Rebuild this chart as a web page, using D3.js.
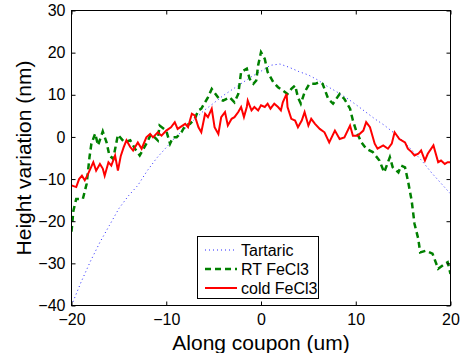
<!DOCTYPE html>
<html>
<head>
<meta charset="utf-8">
<script src="https://cdn.jsdelivr.net/npm/d3@7"></script>
<style>
  body { margin: 0; background: #fff; }
  svg { font-family: "Liberation Sans", Arial, sans-serif; }
</style>
</head>
<body>
<svg id="chart" width="461" height="353"></svg>
<script>
// Data

const xDomain = [-20, 20];
const yDomain = [-40, 30];
const xTicks = [-20, -10, 0, 10, 20];
const yTicks = [-40, -30, -20, -10, 0, 10, 20, 30];

const seriesNames = ["Tartaric", "RT FeCl3", "cold FeCl3"];

// Tartaric (smooth, blue dotted)
const tartaricX = [-20, -19, -18, -17, -16, -15, -14, -13, -12, -11, -10, -9, -8, -7, -6, -5, -4, -3, -2, -1,
  0, 1, 2, 3, 4, 5, 6, 7, 8, 9, 10, 11, 12, 13, 14, 15, 16, 17, 18, 19, 20];
const tartaricY = [-40, -34.5, -29.5, -25, -21, -17, -14, -11.5, -8, -5, -2.5, 0, 2, 4.2, 6.3, 8, 9.8, 11.3, 12.8, 14.3,
  15.6, 17, 17.3, 16.5, 15.5, 14.7, 13.5, 12, 10.7, 9.3, 7.7, 6, 4.3, 2.8, 1, -1, -3.3, -5.7, -8.5, -11, -13.5];

// RT FeCl3 (green dashed)
const rtX = [-20, -19.8, -19.5, -18.8, -18.4, -18.1, -17.9, -17.5, -17.2, -16.7, -16.3, -16, -15.6, -15.1, -14.4,
  -13.8, -13.3, -12.8, -12.1, -11.6, -10.9, -10.7, -10, -9.6, -9.3, -8.9, -8.4, -8, -7.5, -7, -6.6, -6.3, -5.6,
  -5.2, -4.4, -4, -3.3, -2.8, -2.4, -2.1, -1.5, -1.2, -0.8, -0.5, -0.3, 0, 0.4, 0.7, 1.3, 1.8, 2.3, 2.8, 3.2, 3.6,
  3.9, 4.2, 4.6, 5.1, 5.7, 6.2, 6.5, 7.1, 7.6, 8.3, 8.8, 9.4, 9.7, 10.1, 10.6, 11.1, 11.8, 12.5, 13, 13.4, 13.6,
  13.9, 14.5, 14.8, 15.2, 15.5, 15.9, 16.2, 16.6, 16.8, 17.4, 18.1, 18.7, 19.4, 19.7, 20];
const rtY = [-22.5, -17.5, -14.7, -14.7, -11.1, -4.8, -1.6, 0.8, -2, 1.3, -1.3, -4.4, -5.2, 0.5, -1.3,
  -0.8, -2.8, -4.4, -1.6, 0.7, -0.8, 2.7, 1.5, -1.6, -0.1, -0.1, 1.1, 2.7, 3.1, 4.3, 6.3, 6.7, 9.4,
  11.4, 9, 8.6, 9.4, 8.2, 10.2, 15.4, 16.2, 13.8, 12.6, 13.4, 17, 20.1, 18.5, 15.4, 13, 11.8, 11, 10.2, 11.4, 12.2,
  9.4, 7.9, 10.6, 12.6, 12.6, 13, 12.6, 9, 7.9, 10.2, 9, 6.7, 3.9, 1.1, -1.3, -2.8, -3.6, -5.6, -8.4, -6, -4.8,
  -7.2, -8.4, -6.8, -7.2, -10.3, -15.1, -20.6, -24.2, -27.4, -27, -27.7, -31.3, -30.1, -29.7, -32.5];

// cold FeCl3 (red solid)
const coldX = [-20, -19.5, -19.2, -18.9, -18.6, -18.3, -18, -17.7, -17.4, -17, -16.7, -16.5, -16.1, -15.8, -15.4,
  -15.1, -14.8, -14.5, -14.2, -13.8, -13.5, -13, -12.6, -12.1, -11.7, -11.4, -10.9, -10.5, -10, -9.5, -9.1, -8.8,
  -8.4, -8, -7.7, -7.3, -7, -6.6, -6.3, -5.9, -5.6, -5.2, -4.9, -4.5, -4.2, -3.8, -3.5, -3.1, -2.8, -2.4, -2.1,
  -1.8, -1.5, -1.4, -1, -0.7, -0.3, 0, 0.4, 0.7, 1, 1.4, 1.8, 2.1, 2.3, 2.7, 2.8, 3.2, 3.6, 3.9, 4.3, 4.6, 5, 5.3,
  5.7, 6.2, 6.7, 7.2, 7.8, 8.3, 8.8, 9.4, 9.7, 10.2, 10.8, 11.1, 11.5, 12, 12.3, 12.9, 13.4, 13.8, 14.1, 14.6,
  15.2, 15.5, 15.9, 16.2, 16.6, 16.9, 17.3, 17.6, 18.2, 18.7, 19, 19.4, 19.7, 20];
const coldY = [-11.5, -11.9, -10, -9.2, -10.3, -9, -7.5, -6, -8, -6.4, -7.5, -9.2, -6, -6.8, -4.4,
  -8, -4.5, -2.5, -0.8, -2.4, -3.2, -1.3, -2.8, -0.1, 0.7, -0.1, 1.1, 0.3, 1.5, 2.3, 3.5, 1.9,
  2.5, 3.1, 2.3, 5.5, 5.1, 2.3, 1.1, 5.5, 4.7, 6.7, 2.3, 0.7, 4.7, 5.9, 2.7, 4.3, 4.7, 5.9, 7.1,
  4.7, 7.1, 8.6, 6.3, 7.1, 6.3, 7.5, 7.1, 7.9, 6.7, 7.9, 7.1, 6.3, 8.2, 10.2, 7.1, 4.3, 3.9, 2.3, 3.9, 5.9, 2.7, 4.3,
  3.1, 1.9, 1.1, -1.3, 1.5, -0.5, -0.1, 2.7, 0.3, 0.3, 1.5, 3.5, 2.3, -1.6, -2.8, -2, -2.8, -1.6, 1.1, -0.5,
  -1.3, -2.8, -3.6, -4.4, -4, -3.2, -5.6, -4, -2, -6, -5.6, -6.4, -6, -6];

const svg = d3.select("#chart");

// plot box
const plotLeft = 71.5, plotRight = 450.5, plotTop = 10.5, plotBottom = 305.5;

const x = d3.scaleLinear().domain(xDomain).range([plotLeft, plotRight]);
const y = d3.scaleLinear().domain(yDomain).range([plotBottom, plotTop]);

const line = d3.line().x((d) => x(d[0])).y((d) => y(d[1]));

function pairs(xs, ys) {
  return xs.map((v, i) => [v, ys[i]]);
}

const series = [
  { name: seriesNames[0], data: pairs(tartaricX, tartaricY), color: "#2828ff", width: 1, dash: "1,3" },
  { name: seriesNames[1], data: pairs(rtX, rtY), color: "#008000", width: 2.5, dash: "6,4" },
  { name: seriesNames[2], data: pairs(coldX, coldY), color: "#ff0000", width: 2, dash: null },
];

// clip so lines stay inside the box
svg.append("clipPath").attr("id", "clip")
  .append("rect").attr("x", plotLeft).attr("y", plotTop)
  .attr("width", plotRight - plotLeft).attr("height", plotBottom - plotTop);

const plot = svg.append("g").attr("clip-path", "url(#clip)");
series.forEach((s) => {
  plot.append("path")
    .datum(s.data)
    .attr("d", line)
    .attr("fill", "none")
    .attr("stroke", s.color)
    .attr("stroke-width", s.width)
    .attr("stroke-dasharray", s.dash);
});

// axes: MATLAB style, ticks inward on all four sides
const tickLen = 4;
svg.append("g").attr("transform", `translate(0,${plotBottom})`)
  .call(d3.axisBottom(x).tickValues(xTicks).tickSizeInner(-tickLen).tickSizeOuter(0).tickPadding(8))
  .call((g) => g.select(".domain").remove());
svg.append("g").attr("transform", `translate(0,${plotTop})`)
  .call(d3.axisTop(x).tickValues(xTicks).tickSizeInner(-tickLen).tickSizeOuter(0).tickFormat(""))
  .call((g) => g.select(".domain").remove());
svg.append("g").attr("transform", `translate(${plotLeft},0)`)
  .call(d3.axisLeft(y).tickValues(yTicks).tickSizeInner(-tickLen).tickSizeOuter(0).tickPadding(6))
  .call((g) => g.select(".domain").remove());
svg.append("g").attr("transform", `translate(${plotRight},0)`)
  .call(d3.axisRight(y).tickValues(yTicks).tickSizeInner(-tickLen).tickSizeOuter(0).tickFormat(""))
  .call((g) => g.select(".domain").remove());

svg.selectAll(".tick text")
  .attr("font-size", 16)
  .attr("font-family", "Liberation Sans, Arial, sans-serif")
  .attr("fill", "#000")
  .text(function () { return this.textContent.replace("-", "\u2212"); });

svg.append("rect")
  .attr("x", plotLeft).attr("y", plotTop)
  .attr("width", plotRight - plotLeft).attr("height", plotBottom - plotTop)
  .attr("fill", "none").attr("stroke", "#000").attr("stroke-width", 1);

// axis labels
svg.append("text")
  .attr("x", (plotLeft + plotRight) / 2).attr("y", 350)
  .attr("text-anchor", "middle").attr("font-size", 21)
  .text("Along coupon (um)");
svg.append("text")
  .attr("transform", `translate(31,${(plotTop + plotBottom) / 2}) rotate(-90)`)
  .attr("text-anchor", "middle").attr("font-size", 21)
  .text("Height variation (nm)");

// legend
const legend = svg.append("g");
legend.append("rect")
  .attr("x", 197.5).attr("y", 236.5).attr("width", 121).attr("height", 62)
  .attr("fill", "#fff").attr("stroke", "#000").attr("stroke-width", 1);
series.forEach((s, i) => {
  const ly = 250 + i * 19;
  legend.append("line")
    .attr("x1", 205).attr("x2", 237).attr("y1", ly).attr("y2", ly)
    .attr("stroke", s.color).attr("stroke-width", s.width)
    .attr("stroke-dasharray", s.dash);
  legend.append("text")
    .attr("x", 241).attr("y", ly).attr("dy", "0.35em")
    .attr("font-size", 16)
    .text(s.name);
});
</script>
</body>
</html>
